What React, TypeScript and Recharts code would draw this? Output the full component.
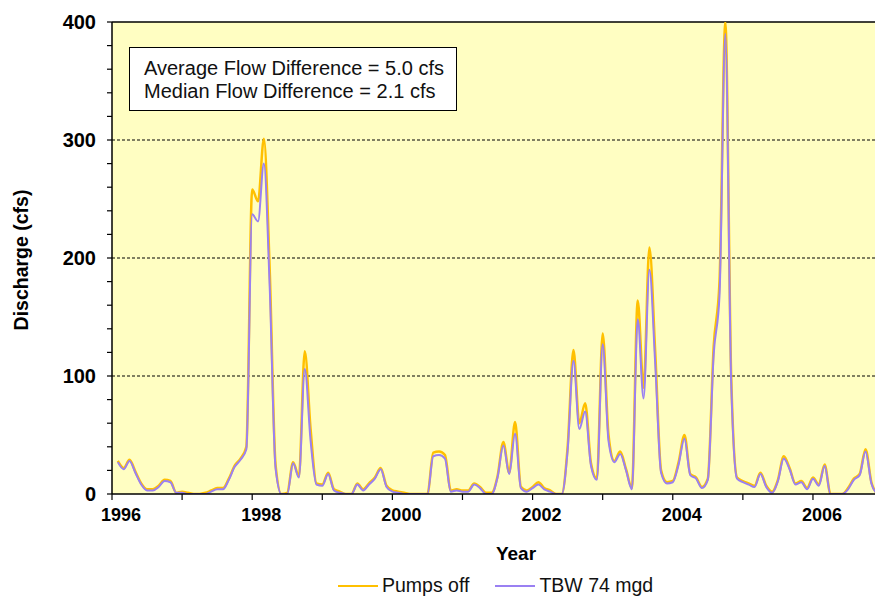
import React from 'react';
import {
  LineChart,
  Line,
  XAxis,
  YAxis,
  CartesianGrid,
  ReferenceLine,
} from 'recharts';

// monthly discharge (cfs), Jan 1996 .. Dec 2006
const startYear = 1996;

const pumpsOff: (number | null)[] = [
  null, 28, 22, 29, 19, 9, 4, 4, 7, 12, 11, 1,
  2, 1, 0, 0, 1, 3, 5, 5, 13, 24, 30, 40,
  258, 248, 301, 190, 25, 0, 1, 27, 15, 121, 55, 9,
  8, 18, 4, 2, 0, 0, 9, 4, 9, 14, 22, 7,
  3, 2, 1, 0, 0, 0, 0, 35, 36, 33, 3, 4,
  3, 3, 9, 6, 1, 1, 15, 44, 18, 61, 6, 3,
  6, 10, 5, 3, 0, 0, 40, 122, 60, 77, 26, 13,
  136, 50, 28, 36, 21, 5, 164, 90, 209, 120, 20, 10,
  11, 27, 50, 17, 14, 6, 13, 125, 180, 400, 100, 14,
  11, 9, 7, 18, 7, 2, 12, 32, 22, 9, 11, 5,
  14, 8, 25, 0, 0, 0, 5, 13, 17, 38, 10, 0,
];

const tbw74: (number | null)[] = [
  null, 27, 21, 28, 18, 8, 3, 3, 6, 11, 10, 1,
  1, 0, 0, 0, 0, 2, 4, 4, 12, 23, 29, 38,
  237, 231, 280, 175, 22, 0, 0, 26, 14, 106, 45, 8,
  7, 17, 3, 1, 0, 0, 8, 3, 8, 13, 21, 6,
  2, 1, 0, 0, 0, 0, 0, 32, 33, 30, 2, 3,
  2, 2, 8, 5, 0, 0, 14, 41, 17, 51, 5, 2,
  5, 8, 4, 2, 0, 0, 37, 113, 55, 70, 24, 12,
  127, 45, 27, 34, 20, 4, 148, 81, 190, 110, 18, 9,
  10, 25, 47, 16, 13, 5, 12, 118, 168, 390, 95, 13,
  10, 8, 6, 17, 6, 1, 11, 30, 21, 8, 10, 4,
  13, 7, 24, 0, 0, 0, 4, 12, 16, 36, 9, 0,
];

const yearTicks = [1996, 1997, 1998, 1999, 2000, 2001, 2002, 2003, 2004, 2005, 2006];
const yTicks = [0, 20, 40, 60, 80, 100, 120, 140, 160, 180, 200, 220, 240, 260, 280, 300, 320, 340, 360, 380, 400];
const gridValues = [100, 200, 300];

const data = pumpsOff.map((v, i) => ({
  t: startYear + i / 12,
  pumpsOff: v,
  tbw: tbw74[i],
}));

const FONT = '"Liberation Sans", Arial, sans-serif';
const YELLOW = '#FFC000';
const PURPLE = '#9A80F2';

const YearTick = (props: any) => {
  const { x, y, payload } = props;
  if (payload.value % 2 !== 0) return null;
  return (
    <text
      x={x + 9}
      y={y}
      dy="0.71em"
      textAnchor="middle"
      fontSize={18}
      fontWeight="bold"
      fontFamily={FONT}
      fill="#000"
    >
      {payload.value}
    </text>
  );
};

export default function App() {
  return (
    <div
      style={{
        position: 'absolute',
        left: 0,
        top: 0,
        width: 875,
        height: 597,
        background: '#fff',
        fontFamily: FONT,
      }}
    >
      <LineChart
        width={875}
        height={597}
        data={data}
        margin={{ top: 22, right: 0, bottom: 73, left: 0 }}
      >
        <CartesianGrid
          vertical={false}
          horizontalValues={gridValues}
          stroke="#000"
          strokeDasharray="3 2"
          fill="#FFFEC2"
          fillOpacity={1}
        />
        <XAxis
          dataKey="t"
          type="number"
          domain={[1996, 2006.885]}
          allowDataOverflow
          ticks={yearTicks}
          interval={0}
          tick={<YearTick />}
          tickSize={6}
          tickMargin={8}
          height={30}
          axisLine={{ stroke: '#000', strokeWidth: 1.5 }}
          tickLine={{ stroke: '#000', strokeWidth: 1.2 }}
          label={() => (
            <text
              x={516}
              y={560}
              textAnchor="middle"
              fontSize={19}
              fontWeight="bold"
              fontFamily={FONT}
              fill="#000"
            >
              Year
            </text>
          )}
        />
        <YAxis
          type="number"
          domain={[0, 400]}
          allowDataOverflow
          ticks={yTicks}
          interval={0}
          width={112}
          tickSize={5}
          tickMargin={11}
          tickFormatter={(v: number) => (v % 100 === 0 ? String(v) : '')}
          tick={{ fontSize: 20, fontWeight: 'bold', fill: '#000', fontFamily: FONT }}
          axisLine={{ stroke: '#000', strokeWidth: 1.5 }}
          tickLine={{ stroke: '#000', strokeWidth: 1.2 }}
          label={() => (
            <text
              x={28}
              y={260}
              transform="rotate(-90, 28, 260)"
              textAnchor="middle"
              fontSize={19.5}
              fontWeight="bold"
              fontFamily={FONT}
              fill="#000"
            >
              Discharge (cfs)
            </text>
          )}
        />
        <ReferenceLine y={400} stroke="#000" strokeWidth={1.5} />
        <Line
          type="monotone"
          dataKey="pumpsOff"
          stroke={YELLOW}
          strokeWidth={2.5}
          dot={false}
          activeDot={false}
          isAnimationActive={false}
        />
        <Line
          type="monotone"
          dataKey="tbw"
          stroke={PURPLE}
          strokeWidth={2}
          dot={false}
          activeDot={false}
          isAnimationActive={false}
        />
      </LineChart>

      <div
        style={{
          position: 'absolute',
          left: 129,
          top: 47,
          width: 328,
          height: 64,
          border: '1.5px solid #000',
          background: '#fff',
          fontSize: 20,
          lineHeight: '23px',
          color: '#111',
          padding: '9px 0 0 14px',
          boxSizing: 'border-box',
          whiteSpace: 'nowrap',
        }}
      >
        <div>Average Flow Difference = 5.0 cfs</div>
        <div>Median Flow Difference = 2.1 cfs</div>
      </div>

      <div
        style={{
          position: 'absolute',
          left: 338,
          top: 574,
          display: 'flex',
          alignItems: 'center',
          fontSize: 19.5,
          color: '#111',
          whiteSpace: 'nowrap',
        }}
      >
        <span style={{ display: 'inline-block', width: 40, height: 2, background: YELLOW, marginRight: 4 }} />
        <span style={{ marginRight: 26 }}>Pumps off</span>
        <span style={{ display: 'inline-block', width: 40, height: 2, background: PURPLE, marginRight: 4 }} />
        <span>TBW 74 mgd</span>
      </div>
    </div>
  );
}
